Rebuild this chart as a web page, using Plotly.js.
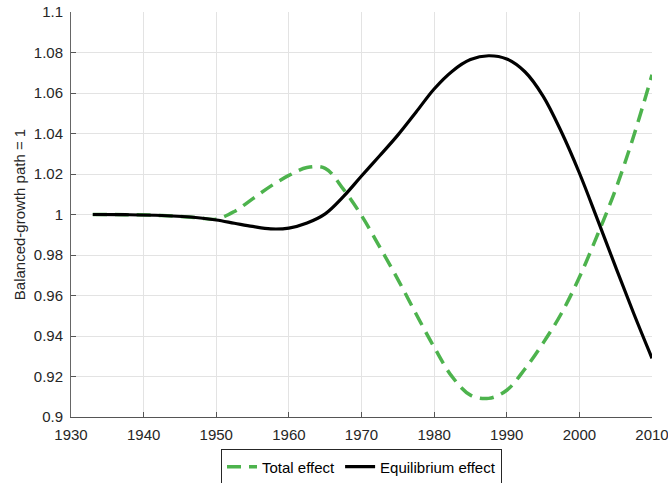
<!DOCTYPE html>
<html>
<head>
<meta charset="utf-8">
<script src="https://cdn.plot.ly/plotly-3.0.1.min.js"></script>
<style>html,body{margin:0;padding:0;background:#fff;}#chart{width:668px;height:483px;}</style>
</head>
<body>
<div id="chart"></div>
<script>
const years = [1933,1937.5,1942.5,1947.5,1950,1952.5,1955,1957.5,1960,1962.5,1965,1967.5,1970,1972.5,1975,1977.5,1980,1982.5,1985,1987.5,1990,1992.5,1995,1997.5,2000,2002.5,2005,2007.5,2010];
const totalEffect = [1.0,0.9999,0.9995,0.9984,0.9977,1.0015,1.0077,1.014,1.0193,1.0232,1.0228,1.0125,0.9995,0.984,0.968,0.951,0.9345,0.9198,0.9108,0.9092,0.9132,0.9237,0.9365,0.951,0.969,0.990,1.0125,1.039,1.069];
const eqEffect = [1.0,0.9999,0.9995,0.9984,0.9973,0.9957,0.9941,0.9929,0.9933,0.9958,1.0003,1.0088,1.019,1.029,1.0392,1.0505,1.062,1.0708,1.0765,1.0784,1.0768,1.0705,1.0585,1.041,1.0205,0.9975,0.974,0.951,0.929];
const xTicks = [1930,1940,1950,1960,1970,1980,1990,2000,2010];
const yTicks = [0.9,0.92,0.94,0.96,0.98,1,1.02,1.04,1.06,1.08,1.1];
const yTickText = ['0.9','0.92','0.94','0.96','0.98','1','1.02','1.04','1.06','1.08','1.1'];
const names = ['Total effect','Equilibrium effect'];

const traces = [
  {x: years, y: totalEffect, name: names[0], type: 'scatter', mode: 'lines',
   line: {color: '#4db34d', width: 3.5, dash: '14px,8px', shape: 'spline', smoothing: 1}},
  {x: years, y: eqEffect, name: names[1], type: 'scatter', mode: 'lines',
   line: {color: '#000000', width: 3.2, shape: 'spline', smoothing: 1}}
];

const layout = {
  width: 668, height: 483,
  margin: {l: 71, r: 16, t: 12, b: 66, autoexpand: false},
  paper_bgcolor: '#ffffff', plot_bgcolor: '#ffffff',
  font: {family: 'Liberation Sans, Arial, sans-serif', size: 15, color: '#262626'},
  showlegend: true,
  legend: {orientation: 'h', x: 0.5, xanchor: 'center', xref: 'paper',
           y: -0.08, yanchor: 'top', yref: 'paper',
           bordercolor: '#262626', borderwidth: 1, bgcolor: '#ffffff',
           font: {size: 15, color: '#000'}, tracegroupgap: 0},
  xaxis: {range: [1930, 2010], tickvals: xTicks, ticktext: xTicks.map(String),
          showgrid: true, gridcolor: '#e3e3e3', gridwidth: 1,
          showline: true, linecolor: '#555555', linewidth: 1,
          ticks: 'inside', ticklen: 5, tickcolor: '#555555', zeroline: false,
          ticklabeloverflow: 'allow', ticklabelstandoff: 4,
          tickfont: {size: 15, color: '#262626'}},
  yaxis: {range: [0.9, 1.1], tickvals: yTicks, ticktext: yTickText,
          showgrid: true, gridcolor: '#e3e3e3', gridwidth: 1,
          showline: true, linecolor: '#666666', linewidth: 1,
          ticks: 'inside', ticklen: 5, tickcolor: '#555555', zeroline: false,
          ticklabeloverflow: 'allow', ticklabelstandoff: 4,
          tickfont: {size: 15, color: '#262626'},
          title: {text: 'Balanced-growth path = 1', font: {size: 15, color: '#262626'}, standoff: 4}}
};

Plotly.newPlot('chart', traces, layout, {displayModeBar: false, staticPlot: true});
</script>
</body>
</html>
